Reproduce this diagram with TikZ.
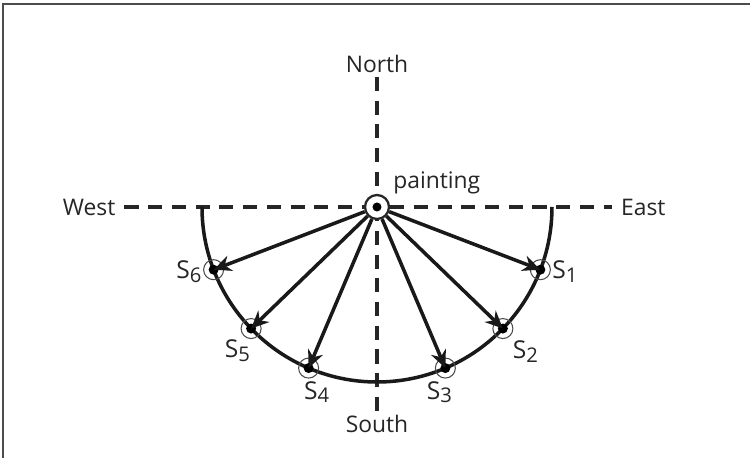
\documentclass[tikz,border=0pt]{standalone}
\usepackage{fontspec}
\setmainfont{Open Sans}
\usepackage{tikz}
\usetikzlibrary{arrows.meta,calc}

\newcommand{\stn}[1]{S\raisebox{-0.3ex}{\fontsize{11.5}{12}\selectfont #1}}

\begin{document}
\begin{tikzpicture}[
    axis/.style={dashed,dash pattern=on 8pt off 5.5pt,line width=2.1pt,black!85},
    dirlabel/.style={font=\fontsize{13}{15}\selectfont,text=black!85,inner sep=2pt},
    slabel/.style={font=\fontsize{14}{16}\selectfont,text=black!85,inner sep=1pt},
    ray/.style={-{Stealth[length=10pt,width=9pt]},line width=2pt,black!90},
    ring/.style={draw=black!70,line width=0.6pt},
    centre/.style={circle,draw=black!85,fill=white,line width=1.3pt,minimum size=0.48cm,inner sep=0pt}
]

\useasboundingbox (-7.54,-5.02) rectangle (7.46,4.14);

% Frame edges.
\draw[black!70,line width=0.6pt] (-7.48,-5.02) -- (-7.48,4.06) -- (7.46,4.06);

% Painting and compass points.
\node[centre] (c) at (0,0) {};
\fill[black] (c.center) circle (0.09);
\node[dirlabel,anchor=south west] (lbl) at (0.25,0.18) {painting};
\node[dirlabel,anchor=east,inner xsep=5pt] (west) at (-5.05,0) {West};
\node[dirlabel,anchor=west,inner xsep=5pt] (east) at (4.7,0) {East};
\node[dirlabel,anchor=south] (north) at (0,2.6) {North};
\node[dirlabel,anchor=north] (south) at (0,-4.08) {South};

% Dashed axes.
\draw[axis] (west) -- (c);
\draw[axis] (c) -- (east);
\draw[axis] (north) -- (c);
\draw[axis] (south) -- (c);

% Lower half circle.
\draw[line width=2pt,black!90] (180:3.5) arc[start angle=180,end angle=360,radius=3.5];

% Stations on the circle.
\coordinate (s1) at (-21:3.5);
\coordinate (s2) at (-44:3.5);
\coordinate (s3) at (-67:3.5);
\coordinate (s4) at (-113:3.5);
\coordinate (s5) at (-136:3.5);
\coordinate (s6) at (-159:3.5);

\foreach \s in {s1,s2,s3,s4,s5,s6} {
    \draw[ring] (\s) circle (0.2);
    \fill[black] (\s) circle (0.1);
    \draw[ray] (c) -- (\s);
}

% Station labels.
\node[slabel,anchor=west] (l1) at ($(s1)+(0.2,-0.04)$) {\stn{1}};
\node[slabel,anchor=north west] (l2) at ($(s2)+(0.16,-0.2)$) {\stn{2}};
\node[slabel,anchor=north] (l3) at ($(s3)+(-0.12,-0.22)$) {\stn{3}};
\node[slabel,anchor=north] (l4) at ($(s4)+(0.16,-0.22)$) {\stn{4}};
\node[slabel,anchor=north east] (l5) at ($(s5)+(0.02,-0.18)$) {\stn{5}};
\node[slabel,anchor=east] (l6) at ($(s6)+(-0.2,-0.04)$) {\stn{6}};

\end{tikzpicture}
\end{document}
